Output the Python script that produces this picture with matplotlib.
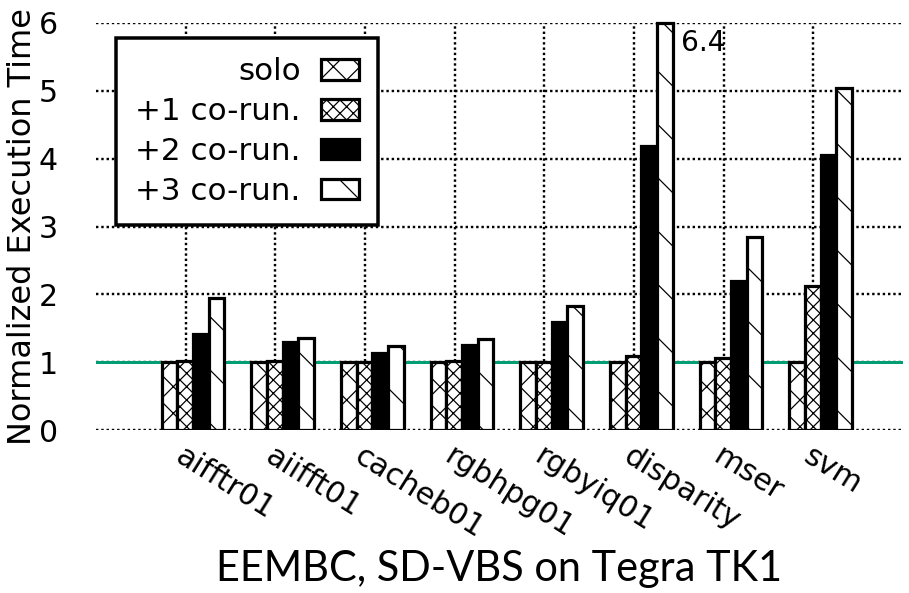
import numpy as np
import matplotlib
matplotlib.use("Agg")
import matplotlib.pyplot as plt

# Benchmarks and normalized execution times
benchmarks = ["aifftr01", "aiifft01", "cacheb01", "rgbhpg01", "rgbyiq01",
              "disparity", "mser", "svm"]
solo = [1.00, 1.00, 1.00, 1.00, 1.00, 1.00, 1.00, 1.00]
corun1 = [1.02, 1.01, 1.00, 1.01, 1.00, 1.09, 1.06, 2.12]
corun2 = [1.42, 1.29, 1.13, 1.25, 1.59, 4.18, 2.20, 4.05]
corun3 = [1.94, 1.36, 1.24, 1.34, 1.83, 6.40, 2.84, 5.04]
series_labels = ["solo", "+1 co-run.", "+2 co-run.", "+3 co-run."]
y_ticks = [0, 1, 2, 3, 4, 5, 6]
y_max = 6

DPI = 160
W, H = 909, 593
plt.rcParams["font.family"] = ["DejaVu Sans"]
plt.rcParams["hatch.linewidth"] = 0.55
plt.rcParams["hatch.color"] = "black"


def px(v):
    """pixels -> points"""
    return v * 72.0 / DPI


fig = plt.figure(figsize=(W / DPI, H / DPI), dpi=DPI)
ax_left, ax_right, ax_top, ax_bottom = 96, 903, 23, 430
ax = fig.add_axes([ax_left / W, (H - ax_bottom) / H,
                   (ax_right - ax_left) / W, (ax_bottom - ax_top) / H])

x = np.arange(len(benchmarks))
bar_w = 0.175
first_off = -0.267
styles = [
    dict(facecolor="white", hatch="xx"),
    dict(facecolor="white", hatch="xxxx"),
    dict(facecolor="black", hatch=None),
    dict(facecolor="white", hatch="\\"),
]
handles = []
for i, (vals, lab, st) in enumerate(zip([solo, corun1, corun2, corun3],
                                        series_labels, styles)):
    bars = ax.bar(x + first_off + i * bar_w, vals, width=bar_w, align="edge",
                  edgecolor="black", linewidth=px(3.2), zorder=3,
                  label=lab, **st)
    handles.append(bars)
    # bars running past the top of the axis get a closing edge at the limit
    for b, v in zip(bars, vals):
        if v > y_max:
            ax.plot([b.get_x(), b.get_x() + b.get_width()], [y_max, y_max],
                    color="black", lw=px(3.2), solid_capstyle="projecting",
                    zorder=4, clip_on=False)
            ax.annotate(f"{v:.1f}", xy=(b.get_x() + b.get_width(), y_max - 0.3),
                        xytext=(px(8), 0), textcoords="offset points",
                        ha="left", va="center", fontsize=px(28), zorder=5)

# reference line for the solo run
ax.axhline(1, color="#009e73", lw=px(3), zorder=2)

ax.set_xlim(-1, len(benchmarks))
ax.set_ylim(0, y_max)
ax.set_yticks(y_ticks)
ax.set_xticks(x)
ax.grid(True, color="black", linestyle=(0, (1, 1.2)), linewidth=px(2.4))
ax.set_axisbelow(True)
for s in ax.spines.values():
    s.set_visible(False)
ax.tick_params(axis="both", length=0)
ax.tick_params(axis="y", pad=px(38), labelsize=px(30))
ax.set_xticklabels(benchmarks, rotation=-32, ha="left", va="top",
                   rotation_mode="anchor", fontsize=px(30))
ax.tick_params(axis="x", pad=px(11))

ax.set_ylabel("Normalized Execution Time", fontsize=px(32))
ax.yaxis.set_label_coords((38.5 - ax_left) / (ax_right - ax_left), 0.5)

leg = ax.legend(handles, series_labels, loc="upper left",
                bbox_to_anchor=(116 / W, 1 - 38 / H),
                bbox_transform=fig.transFigure, markerfirst=False,
                fancybox=False, framealpha=1, edgecolor="black",
                fontsize=px(31), handlelength=1.23, handleheight=0.65,
                handletextpad=0.65, borderpad=0.62, labelspacing=0.35,
                borderaxespad=0)
leg.get_frame().set_linewidth(px(3.5))
leg.set_zorder(10)

fig.text((ax_left + ax_right) / 2 / W, 1 - 581 / H, "EEMBC, SD-VBS on Tegra TK1",
         ha="center", va="baseline", fontsize=px(41.5), family="Lato")

fig.savefig("out.png", dpi=DPI)
